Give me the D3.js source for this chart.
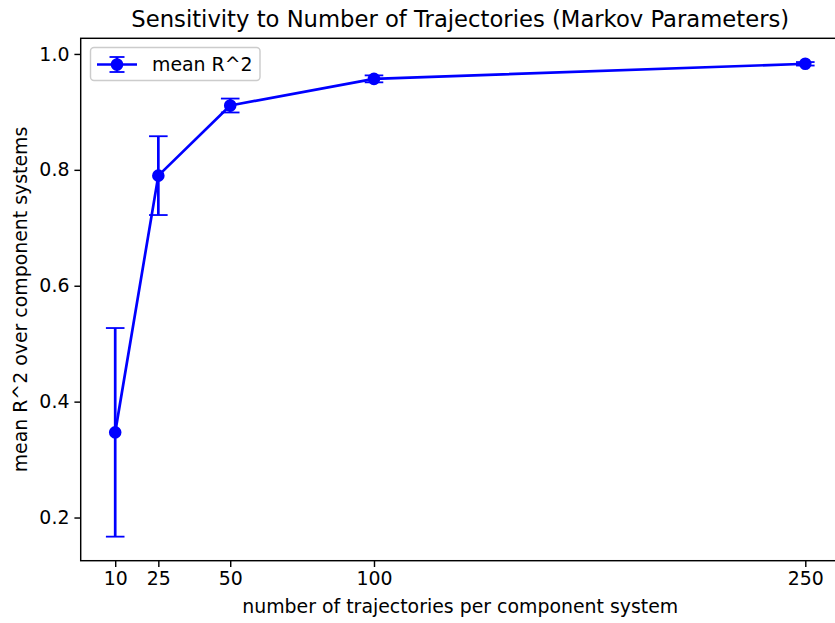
<!DOCTYPE html>
<html>
<head>
<meta charset="utf-8">
<script src="https://cdn.jsdelivr.net/npm/d3@7"></script>
<style>
  html, body { margin: 0; padding: 0; background: #fff; }
  svg { display: block; font-family: "DejaVu Sans", sans-serif; }
</style>
</head>
<body>
<svg id="chart" width="835" height="623"></svg>
<script>
const trajectories = [10, 25, 50, 100, 250];
const meanR2 = [0.347, 0.790, 0.911, 0.957, 0.983];
const errR2 = [0.180, 0.068, 0.012, 0.006, 0.003];
const xTicks = [10, 25, 50, 100, 250];
const yTicks = [0.2, 0.4, 0.6, 0.8, 1.0];

const W = 835, H = 623;
const m = { left: 80.7, top: 38.3, right: 839.8, bottom: 560.7 };
const color = "#0000ff";
const fs = 18.9;

const svg = d3.select("#chart");

const x = d3.scaleLinear().domain([-2, 262]).range([m.left, m.right]);
const y = d3.scaleLinear().domain([0.1255, 1.027]).range([m.bottom, m.top]);

const data = trajectories.map((t, i) => ({ t, v: meanR2[i], e: errR2[i] }));

// axes
const xAxis = d3.axisBottom(x).tickValues(xTicks).tickFormat(d3.format("d")).tickSizeInner(6.3).tickSizeOuter(0).tickPadding(5);
const yAxis = d3.axisLeft(y).tickValues(yTicks).tickFormat(d3.format(".1f")).tickSizeInner(6.3).tickSizeOuter(0).tickPadding(5);

const gx = svg.append("g").attr("transform", `translate(0,${m.bottom})`).call(xAxis);
const gy = svg.append("g").attr("transform", `translate(${m.left},0)`).call(yAxis);
[gx, gy].forEach(g => {
  g.select(".domain").remove();
  g.selectAll(".tick line").attr("stroke", "#000").attr("stroke-width", 1.44);
  g.selectAll(".tick text").attr("fill", "#000").style("font-size", fs + "px").style("font-family", "DejaVu Sans");
});

// spines
svg.append("rect")
  .attr("x", m.left).attr("y", m.top)
  .attr("width", m.right - m.left).attr("height", m.bottom - m.top)
  .attr("fill", "none").attr("stroke", "#000").attr("stroke-width", 1.44);

// error bars
const capW = 9.3;
const eb = svg.append("g").attr("stroke", color).attr("stroke-width", 2.7);
eb.selectAll("line.bar").data(data).join("line")
  .attr("x1", d => x(d.t)).attr("x2", d => x(d.t))
  .attr("y1", d => y(d.v - d.e)).attr("y2", d => y(d.v + d.e));
eb.selectAll("line.capTop").data(data).join("line")
  .attr("x1", d => x(d.t) - capW).attr("x2", d => x(d.t) + capW)
  .attr("y1", d => y(d.v + d.e)).attr("y2", d => y(d.v + d.e))
  .attr("stroke-width", 1.8);
eb.selectAll("line.capBot").data(data).join("line")
  .attr("x1", d => x(d.t) - capW).attr("x2", d => x(d.t) + capW)
  .attr("y1", d => y(d.v - d.e)).attr("y2", d => y(d.v - d.e))
  .attr("stroke-width", 1.8);

// line
svg.append("path").datum(data)
  .attr("d", d3.line().x(d => x(d.t)).y(d => y(d.v)))
  .attr("fill", "none").attr("stroke", color).attr("stroke-width", 2.7)
  .attr("stroke-linejoin", "round").attr("stroke-linecap", "square");

// markers
svg.append("g").selectAll("circle").data(data).join("circle")
  .attr("cx", d => x(d.t)).attr("cy", d => y(d.v)).attr("r", 5.4)
  .attr("fill", color).attr("stroke", color).attr("stroke-width", 1.8);

// title
svg.append("text").attr("x", (m.left + m.right) / 2).attr("y", 27)
  .attr("text-anchor", "middle").style("font-size", "22.7px").text("Sensitivity to Number of Trajectories (Markov Parameters)");

// axis labels
svg.append("text").attr("x", (m.left + m.right) / 2).attr("y", 613)
  .attr("text-anchor", "middle").style("font-size", fs + "px").text("number of trajectories per component system");
svg.append("text").attr("transform", `translate(27,${(m.top + m.bottom) / 2}) rotate(-90)`)
  .attr("text-anchor", "middle").style("font-size", fs + "px").text("mean R^2 over component systems");

// legend
const lg = svg.append("g");
lg.append("rect").attr("x", 90.5).attr("y", 47.5).attr("width", 169.5).attr("height", 33)
  .attr("rx", 3.5).attr("fill", "#fff").attr("fill-opacity", 0.8)
  .attr("stroke", "#cccccc").attr("stroke-width", 1.44);
const lx = 117, ly = 64.5;
lg.append("line").attr("x1", lx - 20).attr("x2", lx + 20).attr("y1", ly).attr("y2", ly)
  .attr("stroke", color).attr("stroke-width", 2.7);
lg.append("line").attr("x1", lx).attr("x2", lx).attr("y1", ly - 7.5).attr("y2", ly + 7.5)
  .attr("stroke", color).attr("stroke-width", 2.7);
lg.append("line").attr("x1", lx - 7.5).attr("x2", lx + 7.5).attr("y1", ly - 7.5).attr("y2", ly - 7.5)
  .attr("stroke", color).attr("stroke-width", 1.8);
lg.append("line").attr("x1", lx - 7.5).attr("x2", lx + 7.5).attr("y1", ly + 7.5).attr("y2", ly + 7.5)
  .attr("stroke", color).attr("stroke-width", 1.8);
lg.append("circle").attr("cx", lx).attr("cy", ly).attr("r", 5.4).attr("fill", color).attr("stroke", color).attr("stroke-width", 1.8);
lg.append("text").attr("x", 152).attr("y", ly + 6.8).style("font-size", fs + "px").text("mean R^2");
</script>
</body>
</html>
